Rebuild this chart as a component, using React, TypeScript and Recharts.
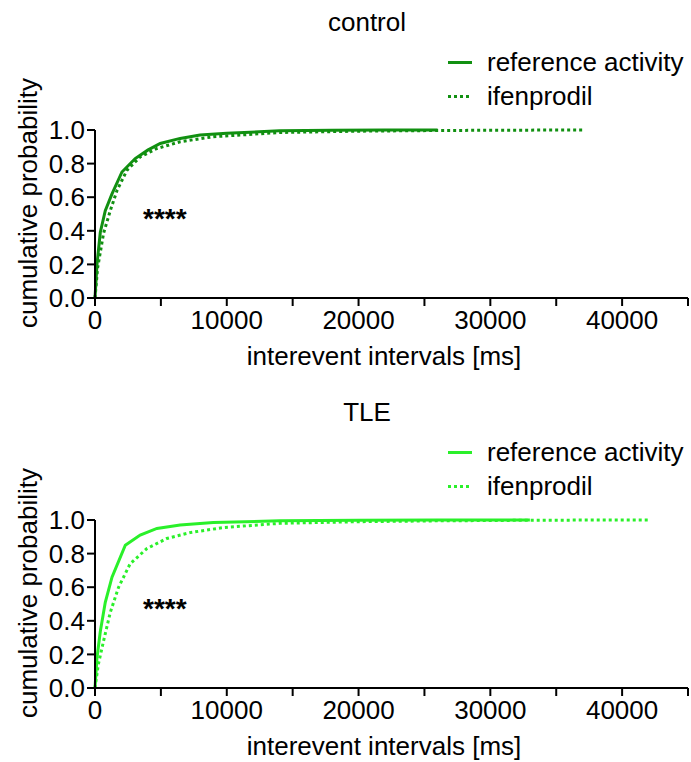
import React from 'react';
import { LineChart, Line, XAxis, YAxis } from 'recharts';

// interevent interval [ms] vs cumulative probability
const controlRefX = [0, 150, 400, 780, 1290, 2045, 3050, 4000, 4950, 6460, 7970, 10000, 14000, 18000, 22000, 26000];
const controlRefY = [0, 0.2, 0.39, 0.52, 0.62, 0.75, 0.83, 0.88, 0.92, 0.95, 0.97, 0.98, 0.995, 0.998, 1.0, 1.0];
const controlIfenX = [0, 200, 650, 1160, 1670, 2420, 3430, 4700, 6460, 8980, 14000, 20000, 26000, 32000, 37000];
const controlIfenY = [0, 0.18, 0.385, 0.52, 0.64, 0.76, 0.84, 0.89, 0.93, 0.96, 0.985, 0.993, 0.997, 0.999, 1.0];

const tleRefX = [0, 150, 400, 780, 1290, 2300, 3430, 4700, 6460, 8980, 14000, 20000, 26000, 33000];
const tleRefY = [0, 0.18, 0.335, 0.51, 0.66, 0.85, 0.91, 0.95, 0.97, 0.985, 0.995, 0.998, 1.0, 1.0];
const tleIfenX = [0, 250, 650, 1160, 1790, 2670, 3940, 5450, 7220, 9740, 14000, 20000, 26000, 34000, 42000];
const tleIfenY = [0, 0.14, 0.28, 0.45, 0.6, 0.74, 0.83, 0.89, 0.925, 0.955, 0.98, 0.99, 0.995, 0.999, 1.0];

const xTicks = [0, 5000, 10000, 15000, 20000, 25000, 30000, 35000, 40000, 45000];
const yTicks = [0, 0.2, 0.4, 0.6, 0.8, 1.0];
const seriesNames = ['reference activity', 'ifenprodil'];

const FONT = '"Liberation Sans", Arial, sans-serif';
const W = 691;
const H = 372;

const toPoints = (xs: number[], ys: number[]) => xs.map((x, i) => ({ x, y: ys[i] }));

function Panel({ top, title, color, refX, refY, ifenX, ifenY }: {
  top: number; title: string; color: string;
  refX: number[]; refY: number[]; ifenX: number[]; ifenY: number[];
}) {
  const axisStyle = { stroke: '#000', strokeWidth: 2 };
  const tickStyle = { fill: '#000', fontSize: 26, fontFamily: FONT };
  return (
    <div style={{ position: 'absolute', left: 0, top, width: W, height: H, fontFamily: FONT, color: '#000' }}>
      <LineChart width={W} height={H} margin={{ top: 130, right: 3, bottom: 0, left: 0 }}>
        <XAxis
          type="number"
          dataKey="x"
          domain={[0, 45000]}
          ticks={xTicks}
          interval={0}
          height={74}
          tickSize={8}
          tickMargin={5}
          axisLine={axisStyle}
          tickLine={axisStyle}
          tick={tickStyle}
          tickFormatter={(v: number) => (v % 10000 === 0 ? String(v) : '')}
        />
        <YAxis
          type="number"
          dataKey="y"
          domain={[0, 1]}
          ticks={yTicks}
          interval={0}
          width={95}
          tickSize={8}
          tickMargin={2}
          axisLine={axisStyle}
          tickLine={axisStyle}
          tick={tickStyle}
          tickFormatter={(v: number) => v.toFixed(1)}
        />
        <Line
          data={toPoints(refX, refY)}
          dataKey="y"
          type="linear"
          stroke={color}
          strokeWidth={3}
          dot={false}
          isAnimationActive={false}
        />
        <Line
          data={toPoints(ifenX, ifenY)}
          dataKey="y"
          type="linear"
          stroke={color}
          strokeWidth={3}
          strokeDasharray="3 3"
          dot={false}
          isAnimationActive={false}
        />
      </LineChart>

      <div style={{ position: 'absolute', left: 367, top: 22, transform: 'translate(-50%,-50%)', fontSize: 26, whiteSpace: 'nowrap' }}>
        {title}
      </div>

      {seriesNames.map((name, i) => (
        <div key={name} style={{ position: 'absolute', left: 448, top: 62 + i * 34, transform: 'translateY(-50%)', display: 'flex', alignItems: 'center', fontSize: 26, whiteSpace: 'nowrap' }}>
          <svg width={26} height={6} style={{ marginRight: 13 }}>
            <line x1={0} y1={3} x2={24} y2={3} stroke={color} strokeWidth={3} strokeDasharray={i === 1 ? '3 3' : undefined} />
          </svg>
          <span>{name}</span>
        </div>
      ))}

      <div style={{ position: 'absolute', left: 28, top: 203, transform: 'translate(-50%,-50%) rotate(-90deg)', fontSize: 26, whiteSpace: 'nowrap' }}>
        cumulative probability
      </div>

      <div style={{ position: 'absolute', left: 384, top: 356, transform: 'translate(-50%,-50%)', fontSize: 26, whiteSpace: 'nowrap' }}>
        interevent intervals [ms]
      </div>

      <div style={{ position: 'absolute', left: 143, top: 219, transform: 'translateY(-50%)', fontSize: 28, fontWeight: 'bold', whiteSpace: 'nowrap' }}>
        ****
      </div>
    </div>
  );
}

export default function App() {
  return (
    <div style={{ position: 'absolute', left: 0, top: 0, width: W, height: 762, background: '#fff' }}>
      <Panel top={0} title="control" color="#119011"
        refX={controlRefX} refY={controlRefY} ifenX={controlIfenX} ifenY={controlIfenY} />
      <Panel top={390} title="TLE" color="#2af02a"
        refX={tleRefX} refY={tleRefY} ifenX={tleIfenX} ifenY={tleIfenY} />
    </div>
  );
}
